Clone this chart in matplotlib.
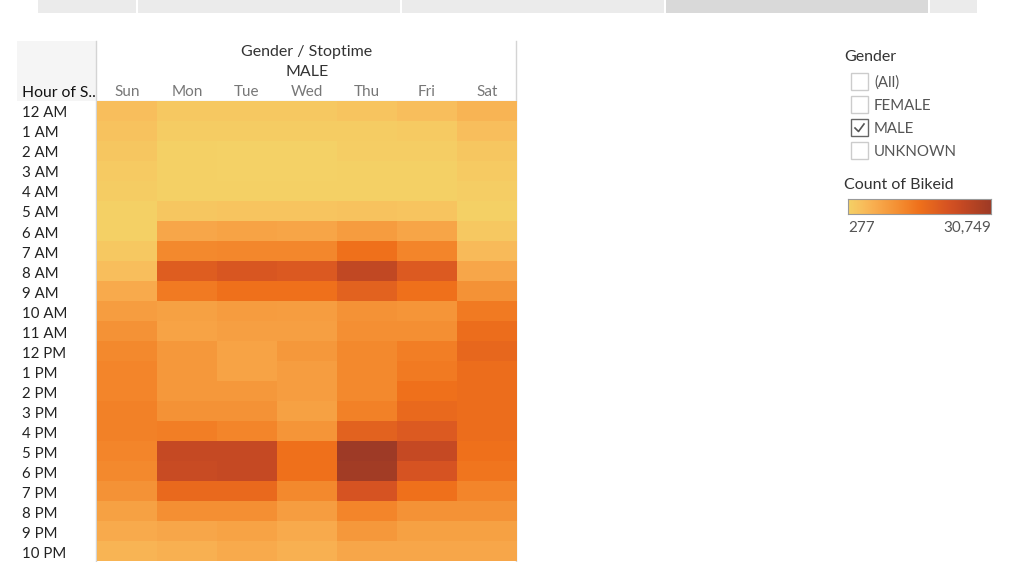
import matplotlib
matplotlib.use("Agg")
import matplotlib.pyplot as plt
import matplotlib.transforms as mtransforms
import numpy as np
from matplotlib.colors import LinearSegmentedColormap, Normalize
from matplotlib.patches import Rectangle

plt.rcParams['font.family'] = ['Lato', 'DejaVu Sans']

days = ['Sun', 'Mon', 'Tue', 'Wed', 'Thu', 'Fri', 'Sat']
hours = ['12 AM', '1 AM', '2 AM', '3 AM', '4 AM', '5 AM', '6 AM', '7 AM', '8 AM',
         '9 AM', '10 AM', '11 AM', '12 PM', '1 PM', '2 PM', '3 PM', '4 PM',
         '5 PM', '6 PM', '7 PM', '8 PM', '9 PM', '10 PM']

# count of bikeid, male riders, by hour (rows) for each weekday
sun = [3324, 2715, 2105, 1496, 1191, 582, 582, 1801, 3324, 6371, 8504, 10333, 11856,
       12466, 12466, 13075, 13075, 12466, 11856, 10333, 7895, 6371, 4848]
mon = [1801, 1191, 582, 582, 582, 2105, 6981, 11856, 19474, 13989, 7895, 7590, 9419,
       9419, 9419, 10333, 13380, 24655, 24045, 17037, 10942, 6981, 5457]
tue = [1801, 1191, 277, 300, 582, 2410, 7590, 12161, 20998, 15513, 8809, 8200, 7590,
       7590, 9419, 10333, 12466, 24655, 24655, 17037, 10942, 7590, 6371]
wed = [1801, 1191, 320, 340, 582, 2410, 7286, 12161, 20388, 15513, 8504, 8200, 9419,
       8504, 8504, 7895, 10028, 15513, 15513, 11856, 8504, 6371, 5457]
thu = [2410, 1191, 886, 582, 582, 2715, 8809, 15513, 25264, 18560, 10333, 10942, 11856,
       11856, 11856, 13075, 18560, 30749, 30140, 21607, 12466, 9419, 6981]
fri = [3324, 1496, 886, 582, 582, 2410, 7286, 12466, 20084, 15513, 10028, 10942, 13380,
       13989, 15513, 17037, 20084, 24655, 21607, 15513, 10333, 7895, 6981]
sat = [4848, 3324, 2105, 1496, 886, 582, 1801, 3934, 6981, 10333, 13989, 16122, 17341,
       16122, 16122, 16122, 16122, 15513, 14904, 12466, 10333, 7895, 6981]

vmin, vmax = 277, 30749
legend_items = ['(All)', 'FEMALE', 'MALE', 'UNKNOWN']

# tableau orange-gold
cmap = LinearSegmentedColormap.from_list('orgold', [
    '#f4d166', '#f8be5c', '#f8aa4c', '#f5983b', '#f3852a', '#ef701b',
    '#e2621f', '#d65322', '#c54923', '#b14223', '#9e3a26'])
norm = Normalize(vmin, vmax)

data = np.array([sun, mon, tue, wed, thu, fri, sat]).T

fig = plt.figure(figsize=(10.12, 5.62), dpi=100)
fig.patch.set_facecolor('white')

# pixel overlay for the surrounding furniture
ov = fig.add_axes([0, 0, 1, 1])
ov.set_xlim(0, 1012)
ov.set_ylim(562, 0)
ov.axis('off')

# tab strip at the top
for x0, x1, c in [(38, 136, '#ebebeb'), (138, 400, '#ebebeb'), (402, 664, '#ebebeb'),
                  (666, 928, '#d9d9d9'), (930, 977, '#ebebeb')]:
    ov.add_patch(Rectangle((x0, 0), x1 - x0, 13, facecolor=c, edgecolor='none'))

# row header box
ov.add_patch(Rectangle((17, 41), 79, 60, facecolor='#f5f5f5', edgecolor='none'))
ov.plot([96.5, 96.5], [41, 562], color='#d4d4d4', lw=1)
ov.plot([516.5, 516.5], [41, 562], color='#d4d4d4', lw=1)
ov.plot([97, 516], [100.5, 100.5], color='#e0e0e0', lw=1)

ov.text(22, 93, 'Hour of S..', fontsize=11.3, color='#111111', va='center', ha='left')
ov.text(307, 52, 'Gender / Stoptime', fontsize=11.5, color='#333333', va='center', ha='center')
ov.text(307, 72, 'MALE', fontsize=11.5, color='#333333', va='center', ha='center')

# heatmap
hm = fig.add_axes([97 / 1012, 1 - 561 / 562, 420 / 1012, 460 / 562])
hm.pcolormesh(np.arange(8), np.arange(24), data, cmap=cmap, norm=norm)
hm.set_xlim(0, 7)
hm.set_ylim(23, 0)
for s in hm.spines.values():
    s.set_visible(False)
hm.xaxis.tick_top()
hm.set_xticks(np.arange(7) + 0.5)
hm.set_xticklabels(days, fontsize=11, color='#777777')
hm.set_yticks(np.arange(23) + 0.5)
hm.set_yticklabels(hours, fontsize=10.8, color='#222222', ha='left')
hm.tick_params(axis='x', length=0, pad=2)
hm.tick_params(axis='y', length=0, pad=54)
# nudge tick labels down one pixel
down = mtransforms.ScaledTranslation(0, -1 / 100, fig.dpi_scale_trans)
for lbl in hm.get_xticklabels() + hm.get_yticklabels():
    lbl.set_transform(lbl.get_transform() + down)

# filter legend
ov.text(844, 57, 'Gender', fontsize=11.5, color='#333333', va='center', ha='left')
for i, lab in enumerate(legend_items):
    y0 = 73 + i * 23
    ec = '#666666' if lab == 'MALE' else '#cccccc'
    ov.add_patch(Rectangle((851, y0), 17, 17, facecolor='white', edgecolor=ec, lw=1))
    ov.text(874, y0 + 10, lab, fontsize=10.8, color='#555555', va='center', ha='left')
    if lab == 'MALE':
        ov.plot([855, 858.5, 864], [y0 + 9, y0 + 12.5, y0 + 5], color='#555555', lw=1.2)

# colour legend
ov.text(844, 185, 'Count of Bikeid', fontsize=11.5, color='#333333', va='center', ha='left')
cb = fig.add_axes([848 / 1012, 1 - 214 / 562, 143 / 1012, 15 / 562])
cb.imshow(np.linspace(0, 1, 256)[None, :], aspect='auto', cmap=cmap)
cb.set_xticks([])
cb.set_yticks([])
for s in cb.spines.values():
    s.set_color('#999999')
ov.text(848, 228, f'{vmin:,}', fontsize=11, color='#555555', va='center', ha='left')
ov.text(991, 228, f'{vmax:,}', fontsize=11, color='#555555', va='center', ha='right')

fig.savefig('out.png', dpi=100)
